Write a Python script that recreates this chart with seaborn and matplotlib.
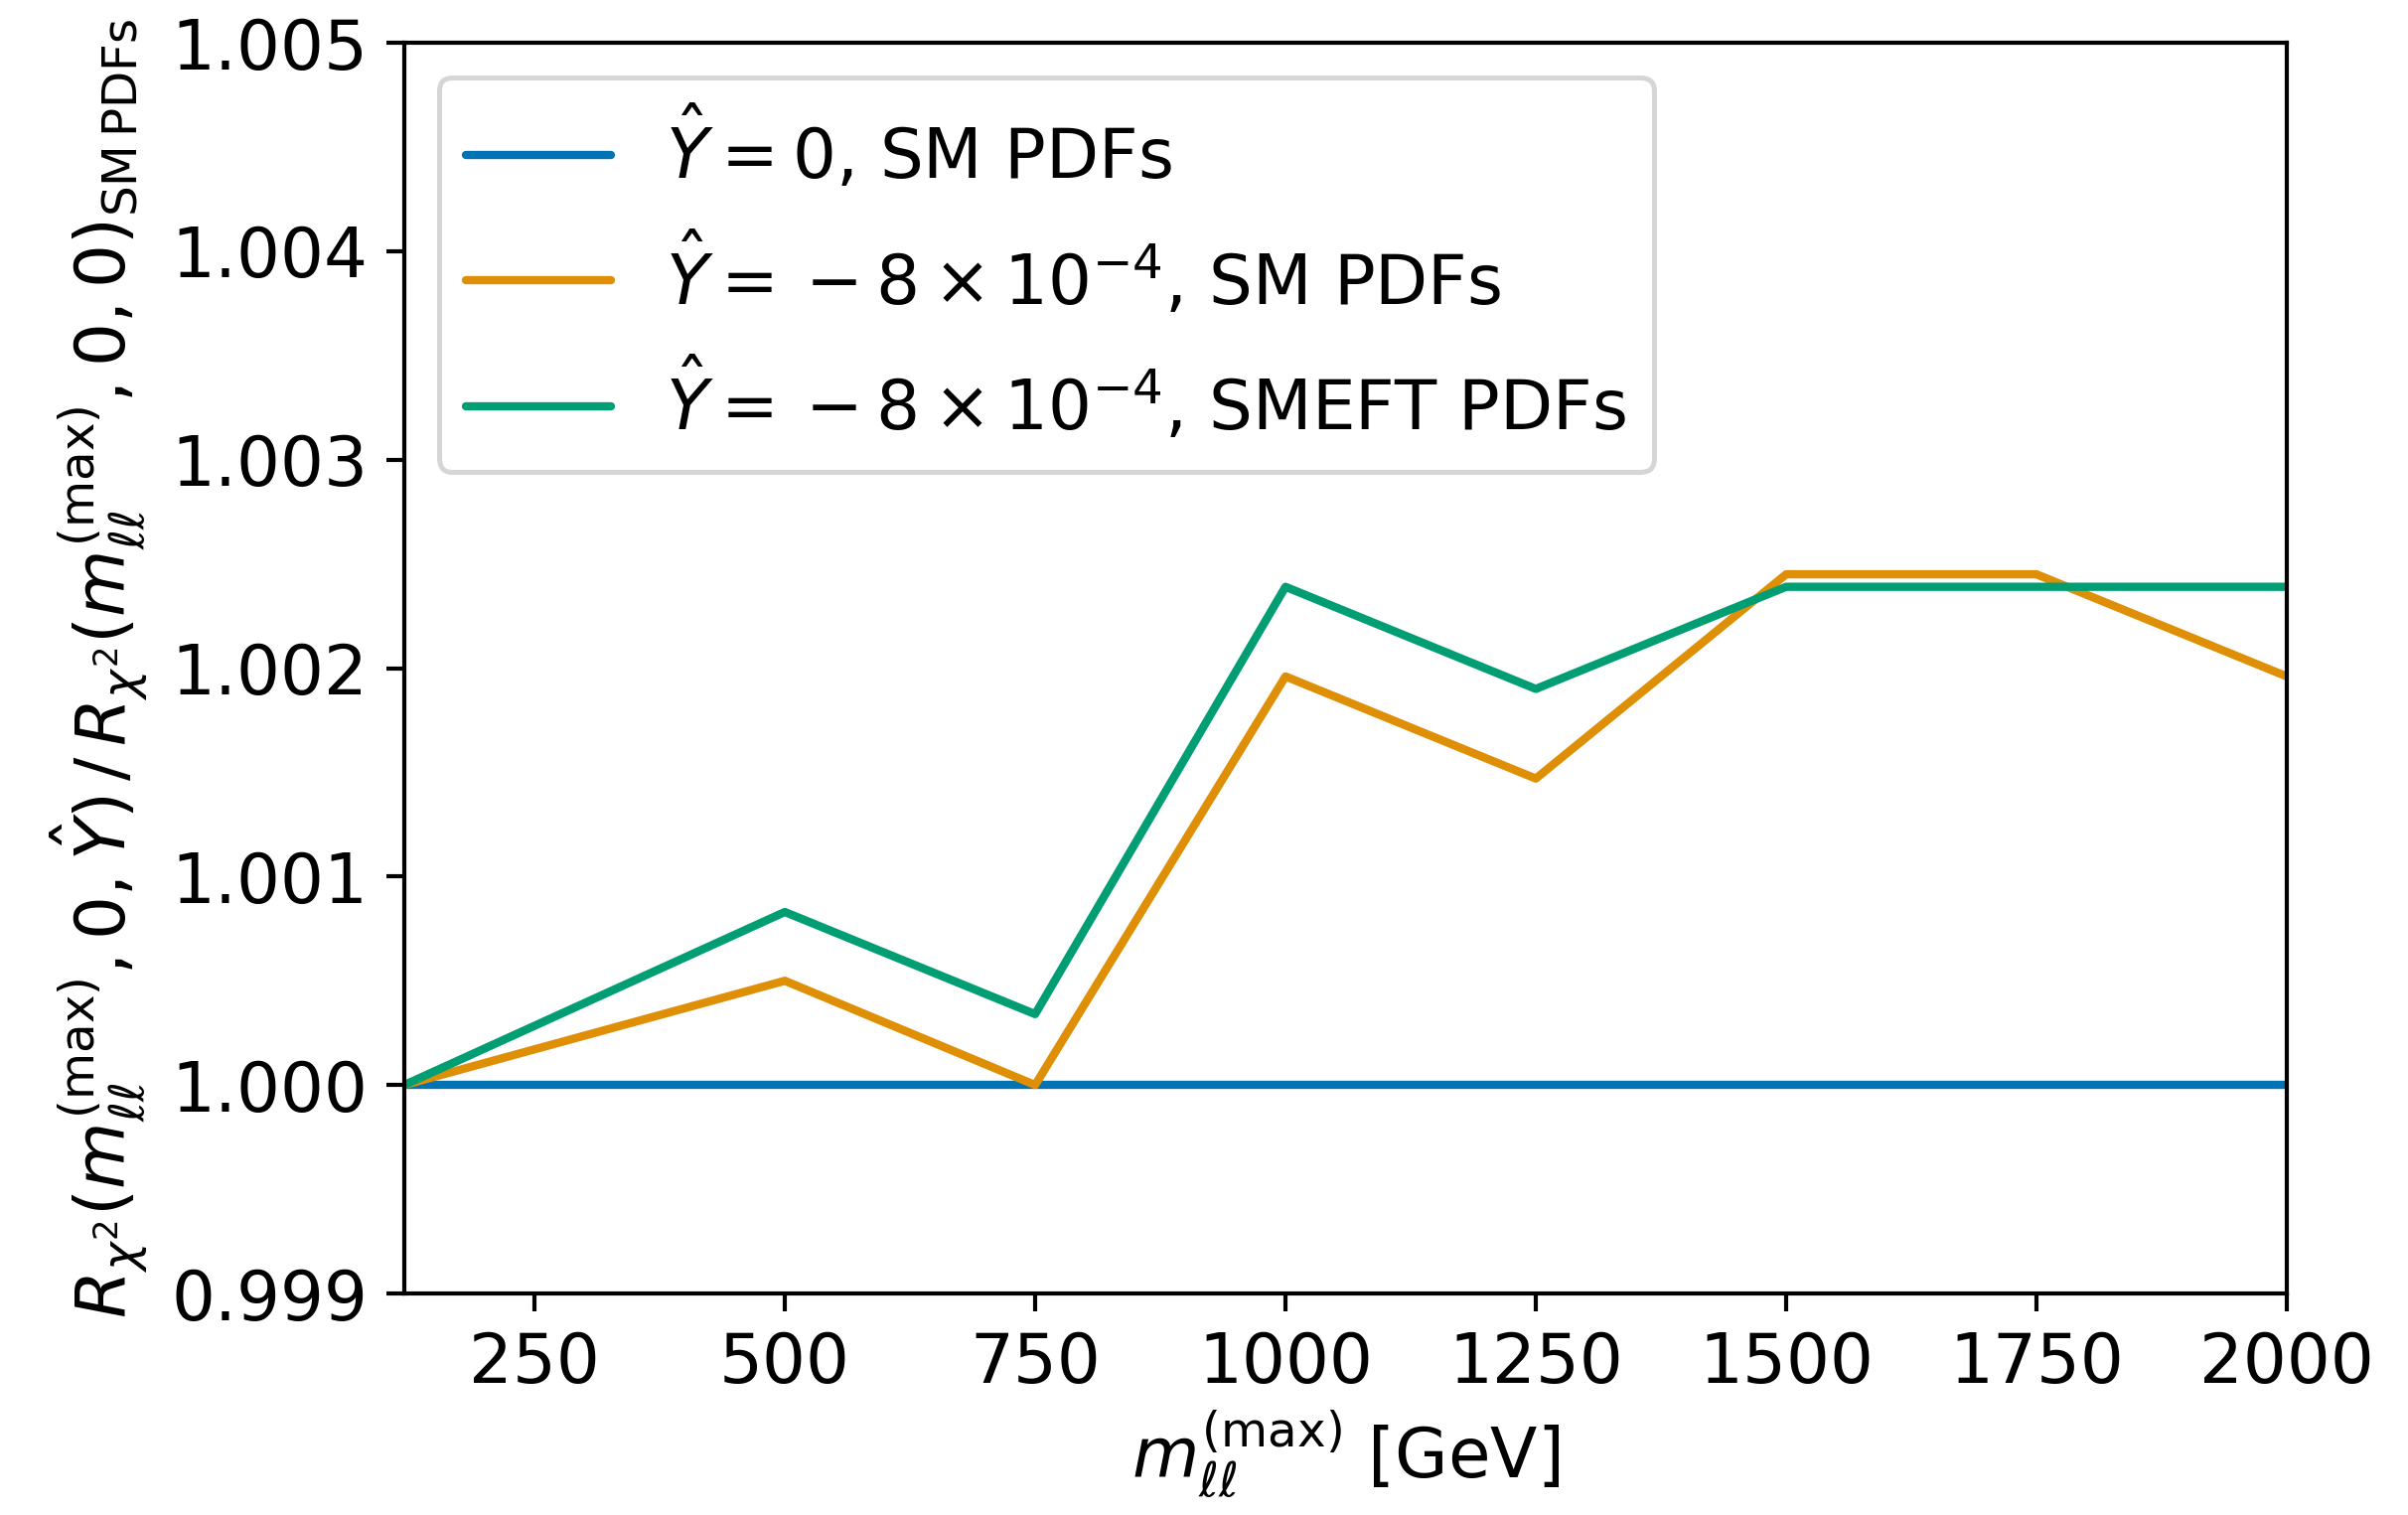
import numpy as np
import pandas as pd
import matplotlib
matplotlib.use("Agg")
import matplotlib.pyplot as plt
import seaborn as sns

# Upper cut on the dilepton invariant mass [GeV]
mll_max = [120, 500, 750, 1000, 1250, 1500, 1750, 2000]

# Ratio R_chi2(mll, 0, Y) / R_chi2(mll, 0, 0) with SM PDFs
ratio_y0_sm = [1.0, 1.0, 1.0, 1.0, 1.0, 1.0, 1.0, 1.0]
ratio_y8_sm = [1.0, 1.00050, 1.00000, 1.00196, 1.00147, 1.00245, 1.00245, 1.00196]
ratio_y8_smeft = [1.0, 1.00083, 1.00034, 1.00239, 1.00190, 1.00239, 1.00239, 1.00239]

labels = [
    r"$\hat{Y} = 0$, SM PDFs",
    r"$\hat{Y} = {} - 8 \times 10^{-4}$, SM PDFs",
    r"$\hat{Y} = {} - 8 \times 10^{-4}$, SMEFT PDFs",
]

xticks = [250, 500, 750, 1000, 1250, 1500, 1750, 2000]
yticks = [0.999, 1.000, 1.001, 1.002, 1.003, 1.004, 1.005]

df = pd.concat(
    [
        pd.DataFrame({"mll": mll_max, "ratio": vals, "case": lab})
        for vals, lab in zip([ratio_y0_sm, ratio_y8_sm, ratio_y8_smeft], labels)
    ],
    ignore_index=True,
)

sns.set_theme(style="ticks", palette="colorblind")
plt.rcParams["font.family"] = ["DejaVu Sans"]
plt.rcParams["mathtext.fontset"] = "dejavusans"
plt.rcParams["text.color"] = "black"
plt.rcParams["axes.labelcolor"] = "black"

fs = 16.6
fig = plt.figure(figsize=(2424 / 300, 1525 / 300), dpi=300)
ax = fig.add_axes([407 / 2424, 1 - 1302 / 1525, (2302 - 407) / 2424, (1302 - 43) / 1525])

sns.lineplot(data=df, x="mll", y="ratio", hue="case", ax=ax, linewidth=2.0,
             palette=sns.color_palette("colorblind", 3))

ax.set_xlim(120, 2000)
ax.set_ylim(0.999, 1.005)
ax.set_xticks(xticks)
ax.set_yticks(yticks)
ax.set_yticklabels([f"{v:.3f}" for v in yticks])
ax.tick_params(axis="both", labelsize=fs, width=1.0, length=4.3, pad=4.5,
               color="black", labelcolor="black")
for s in ax.spines.values():
    s.set_color("black")
    s.set_linewidth(1.0)

ax.set_xlabel(r"$m_{\ell\ell}^{(\mathrm{max})}$ [GeV]", fontsize=fs, color="black", labelpad=3)
ax.set_ylabel(
    r"$R_{\chi^2}(m_{\ell\ell}^{(\mathrm{max})}, 0, \hat{Y})\,/\,"
    r"R_{\chi^2}(m_{\ell\ell}^{(\mathrm{max})}, 0, 0)_{\mathrm{SM\,PDFs}}$",
    fontsize=fs, color="black", labelpad=5,
)

leg = ax.legend(loc="upper left", fontsize=fs, frameon=True, borderpad=0.4,
                handlelength=2.1, handletextpad=0.8, labelspacing=0.55,
                borderaxespad=0.5)
leg.set_title(None)
leg.get_frame().set_edgecolor("0.8")
leg.get_frame().set_linewidth(1.2)
for t in leg.get_texts():
    t.set_color("black")

fig.savefig("out.png", dpi=300)
